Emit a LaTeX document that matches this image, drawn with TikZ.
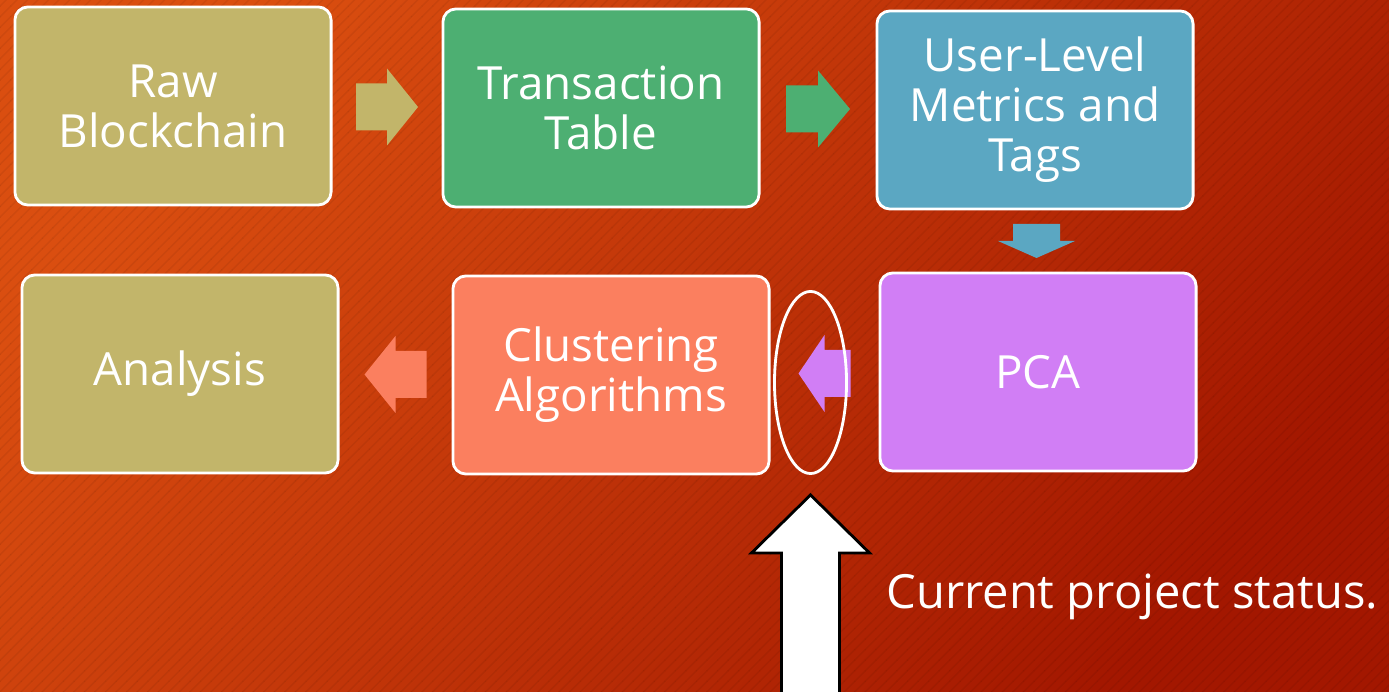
\documentclass[tikz,border=0pt]{standalone}
\usepackage{fontspec}
\setmainfont{Open Sans}
\usetikzlibrary{shapes.geometric,calc,patterns}

\definecolor{bgorange}{HTML}{DA4E10}
\definecolor{bgred}{HTML}{A31700}
\definecolor{olivebox}{HTML}{C2B56A}
\definecolor{greenbox}{HTML}{4DAF72}
\definecolor{bluebox}{HTML}{5BA7C2}
\definecolor{purplebox}{HTML}{D17EF5}
\definecolor{salmonbox}{HTML}{FB7F5F}

\tikzset{
  stage/.style={rectangle, rounded corners=0.13cm, draw=white, line width=0.8pt,
    text=white, align=center, minimum width=3.16cm, minimum height=1.98cm,
    font=\fontsize{13}{14.2}\selectfont},
  pics/blockarrow/.style 2 args={code={
    \fill[#1] (-#2,-23.5) -- (0,-23.5) -- (0,-38.5) -- (#2,0) -- (0,38.5) -- (0,23.5) -- (-#2,23.5) -- cycle;
  }}
}

\begin{document}
\begin{tikzpicture}[x=0.01cm,y=-0.01cm]
  \def\W{1389};
  \def\H{692};
  \useasboundingbox (0,0) rectangle (\W,\H);
  \shade[top color=bgorange, bottom color=bgred, shading angle=50] (0,0) rectangle (\W,\H);
  \fill[pattern=north east lines, pattern color=black, opacity=0.06] (0,0) rectangle (\W,\H);

  % top row
  \node[stage, fill=olivebox] (raw) at (173,106) {Raw\\Blockchain};
  \node[stage, fill=greenbox] (trans) at (601,108) {Transaction\\Table};
  \node[stage, fill=bluebox] (user) at (1035,110) {User-Level\\Metrics and\\Tags};

  % bottom row
  \node[stage, fill=purplebox] (pca) at (1038,372) {PCA};
  \node[stage, fill=salmonbox] (clus) at (611,375) {Clustering\\Algorithms};
  \node[stage, fill=olivebox] (ana) at (180,374) {Analysis};

  \pic at ($(raw.east)!0.5!(trans.west)$) {blockarrow={olivebox}{31}};
  \pic at ($(trans.east)!0.5!(user.west)$) {blockarrow={greenbox}{32}};
  \pic[rotate=-90] at ($(user.south)!0.5!(pca.north)$) {blockarrow={bluebox}{17}};
  \pic[rotate=180] at ($(pca.west)!0.5!(clus.east)$) {blockarrow={purplebox}{26}};
  \pic[rotate=180] at ($(clus.west)!0.5!(ana.east)$) {blockarrow={salmonbox}{31}};

  \node[ellipse, draw=white, line width=0.8pt, minimum width=0.72cm, minimum height=1.82cm, inner sep=0pt] (mark) at ($(pca.west)!0.5!(clus.east)+(-14,9)$) {};

  % status pointer
  \coordinate (tip) at ($(mark.south)+(0,20)$);
  \draw[fill=white, draw=black, line width=0.8pt, line join=miter]
    (tip) -- ++(59,58) -- ++(-30,0) -- ++(0,160) -- ++(-58,0) -- ++(0,-160) -- ++(-30,0) -- cycle;
  \node[anchor=west, text=white, font=\fontsize{13.4}{15}\selectfont] (status) at (874,597) {Current project status.};
\end{tikzpicture}
\end{document}
